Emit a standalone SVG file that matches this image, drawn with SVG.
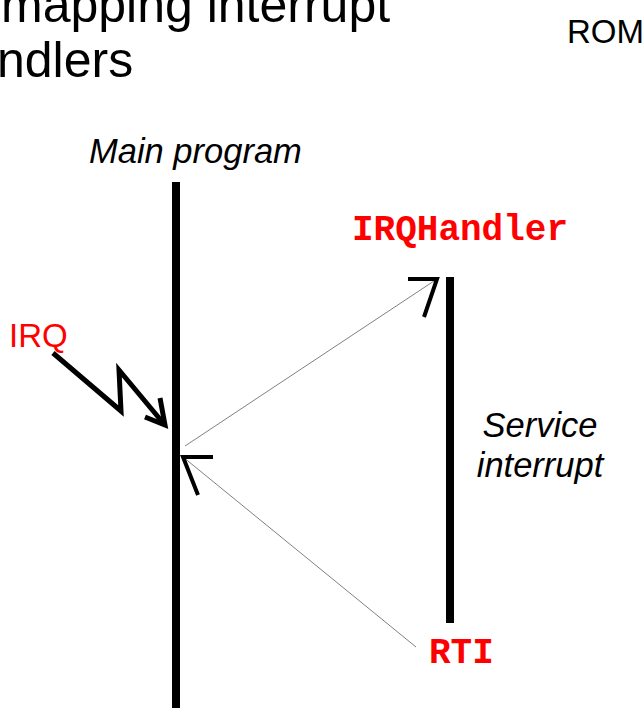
<svg xmlns="http://www.w3.org/2000/svg" width="644" height="708" viewBox="0 0 644 708">
  <style>
    .title { font-family: "Liberation Sans", Arial, sans-serif; font-size: 50px; fill: #000; }
    .label { font-family: "Liberation Sans", Arial, sans-serif; font-size: 33px; }
    .note { font-family: "Liberation Sans", Arial, sans-serif; font-size: 34.5px; font-style: italic; fill: #000; }
    .code { font-family: "Liberation Mono", "Courier New", monospace; font-size: 36px; font-weight: bold; fill: #ff0000; }
    .bar { stroke: #000; stroke-width: 8; fill: none; }
    .thin { stroke: #808080; stroke-width: 1; fill: none; }
    .head { stroke: #000; stroke-width: 4; fill: none; stroke-linecap: butt; }
    .bolt { stroke: #000; stroke-width: 5; fill: none; stroke-linejoin: miter; }
  </style>
  <rect width="644" height="708" fill="#fff"/>

  <!-- heading -->
  <g id="heading">
    <text class="title" x="1" y="22">mapping interrupt</text>
    <text class="title" x="-3" y="77">ndlers</text>
  </g>
  <text class="label" x="567" y="43" fill="#000" font-size="32">ROM</text>

  <!-- main program timeline -->
  <g id="main-program">
    <text class="note" x="89" y="163">Main program</text>
    <line class="bar" x1="176" y1="182" x2="176" y2="708"/>
  </g>

  <!-- interrupt handler timeline -->
  <g id="irq-handler">
    <text class="code" x="352" y="240">IRQHandler</text>
    <line class="bar" x1="450" y1="277" x2="450" y2="623"/>
    <text class="note" x="540" y="437" text-anchor="middle">Service</text>
    <text class="note" x="540" y="477" text-anchor="middle">interrupt</text>
  </g>

  <!-- return from interrupt -->
  <g id="rti">
    <text class="code" x="429" y="663">RTI</text>
  </g>

  <!-- interrupt request -->
  <g id="irq">
    <text class="label" x="9" y="347" fill="#ff0000">IRQ</text>
    <polyline class="bolt" points="53,353 121,411 119,370 164,424"/>
    <polyline class="bolt" points="145,417 165,425 160,398"/>
  </g>

  <!-- connectors -->
  <g id="connectors">
    <line class="thin" x1="185" y1="446" x2="437" y2="279"/>
    <polyline class="head" points="408,279 437,279 424,317"/>
    <line class="thin" x1="416" y1="647" x2="183" y2="457"/>
    <polyline class="head" points="213,457 183,457 198,495"/>
  </g>
</svg>
